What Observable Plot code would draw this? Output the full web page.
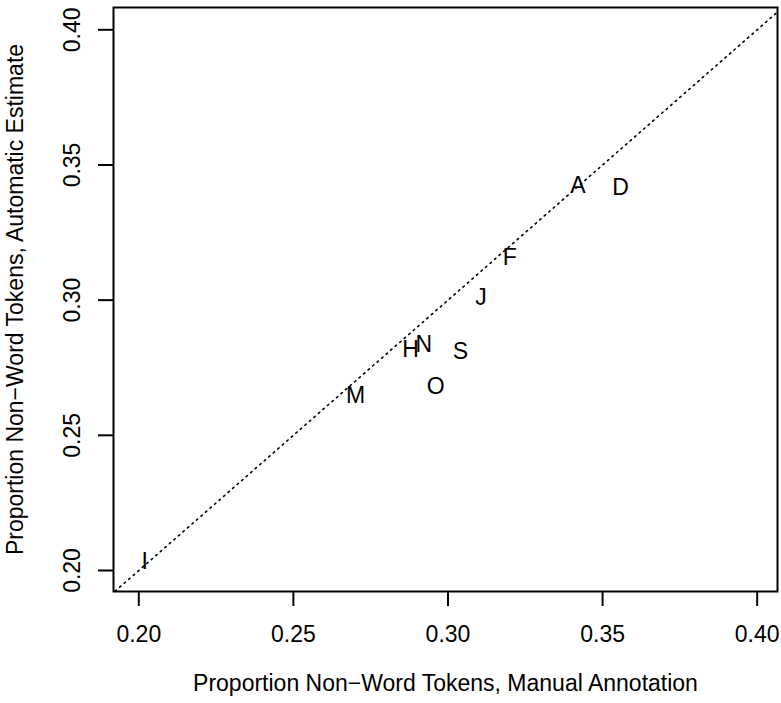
<!DOCTYPE html>
<html>
<head>
<meta charset="utf-8">
<script src="https://cdn.jsdelivr.net/npm/d3@7"></script>
<script src="https://cdn.jsdelivr.net/npm/@observablehq/plot@0.6"></script>
<style>
  html, body { margin: 0; padding: 0; background: #fff; }
  #chart { width: 781px; height: 703px; }
</style>
</head>
<body>
<div id="chart"></div>
<script>
// Transcribers, proportion of non-word tokens: manual annotation vs automatic estimate
const transcribers = ["A", "D", "F", "J", "H", "N", "S", "O", "M", "I"];
const manualShare  = [0.3420, 0.3558, 0.3200, 0.3107, 0.2879, 0.2922, 0.3040, 0.2960, 0.2701, 0.2019];
const autoShare    = [0.3424, 0.3418, 0.3159, 0.3009, 0.2816, 0.2835, 0.2808, 0.2681, 0.2647, 0.2031];

const xTicks = [0.20, 0.25, 0.30, 0.35, 0.40];
const yTicks = [0.20, 0.25, 0.30, 0.35, 0.40];

// reference line y = x, clipped to the frame
const identity = [0.15, 0.45];

const xTitle = "Proportion Non\u2212Word Tokens, Manual Annotation";
const yTitle = "Proportion Non\u2212Word Tokens, Automatic Estimate";

const rows = transcribers.map((t, i) => ({ t, manual: manualShare[i], auto: autoShare[i] }));

const font = "'Liberation Sans', Arial, Helvetica, sans-serif";
const fs = 23;

const chart = Plot.plot({
  width: 781,
  height: 703,
  marginLeft: 113,
  marginRight: 4,
  marginTop: 7,
  marginBottom: 112,
  style: { fontFamily: font, fontSize: fs + "px", background: "#fff", color: "#000", overflow: "visible" },
  x: { domain: [0.19182, 0.40657] },
  y: { domain: [0.19223, 0.40825] },
  marks: [
    Plot.line(identity, {
      x: d => d, y: d => d, clip: true,
      stroke: "#000", strokeWidth: 1.6, strokeDasharray: "1.6,4.4"
    }),
    Plot.axisX({
      ticks: xTicks, tickSize: 15, tickPadding: 19, tickFormat: ".2f",
      label: null, fontSize: fs, strokeWidth: 2, stroke: "#000"
    }),
    Plot.axisY({
      ticks: yTicks, tickSize: 15, tickFormat: () => "",
      label: null, strokeWidth: 2, stroke: "#000"
    }),
    Plot.text(yTicks, {
      y: d => d, text: d => d.toFixed(2), frameAnchor: "left", textAnchor: "middle",
      dx: -40.5, rotate: -90, fontSize: fs, fill: "#000"
    }),
    Plot.text([xTitle], { frameAnchor: "bottom", dy: 99, fontSize: fs, fill: "#000" }),
    Plot.text([yTitle], {
      frameAnchor: "left", textAnchor: "middle", dx: -98, rotate: -90, fontSize: fs, fill: "#000"
    }),
    Plot.text(rows, { x: "manual", y: "auto", text: "t", fontSize: fs, fill: "#000" }),
    Plot.frame({ stroke: "#000", strokeWidth: 2 })
  ]
});

document.getElementById("chart").appendChild(chart);
</script>
</body>
</html>
